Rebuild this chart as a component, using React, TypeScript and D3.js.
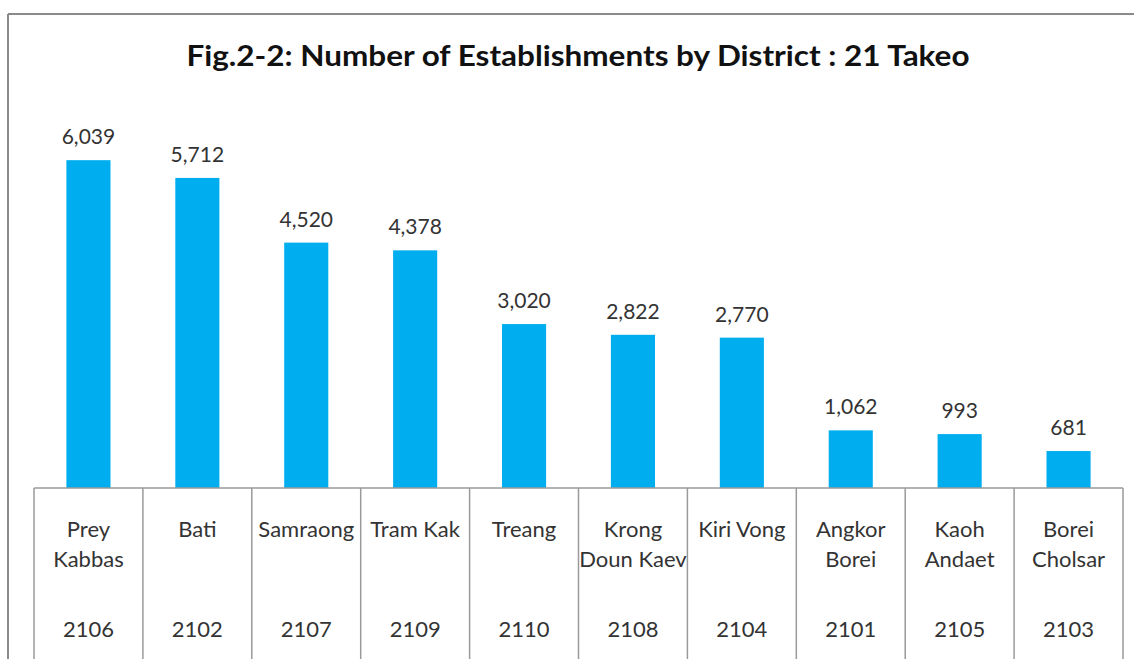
import React from "react";
import * as d3 from "d3";

const districts: string[][] = [
  ["Prey", "Kabbas"],
  ["Bati"],
  ["Samraong"],
  ["Tram Kak"],
  ["Treang"],
  ["Krong", "Doun Kaev"],
  ["Kiri Vong"],
  ["Angkor", "Borei"],
  ["Kaoh", "Andaet"],
  ["Borei", "Cholsar"],
];
const codes: string[] = ["2106", "2102", "2107", "2109", "2110", "2108", "2104", "2101", "2105", "2103"];
const establishments: number[] = [6039, 5712, 4520, 4378, 3020, 2822, 2770, 1062, 993, 681];
const yDomainMax = 7000;
const title = "Fig.2-2: Number of Establishments by District : 21 Takeo";

const W = 1134;
const H = 659;
const FONT = "Lato, 'Open Sans', sans-serif";

export default function App() {
  const x = d3.scaleBand<string>().domain(codes).range([34, 1123]).paddingInner(0).paddingOuter(0);
  const y = d3.scaleLinear().domain([0, yDomainMax]).range([488, 108]);
  const barW = x.bandwidth() * 0.405;
  const fmt = d3.format(",");
  const base = y(0);

  return (
    <svg
      width={W}
      height={H}
      style={{ position: "absolute", left: 0, top: 0, background: "#fff" }}
      fontFamily={FONT}
    >
      <rect x={0} y={0} width={W} height={H} fill="#fff" />
      {/* outer frame */}
      <line x1={8} y1={14} x2={W} y2={14} stroke="#8a8a8a" strokeWidth={2} />
      <line x1={8} y1={14} x2={8} y2={H} stroke="#8a8a8a" strokeWidth={2} />

      <text
        x={578}
        y={66}
        textAnchor="middle"
        fontSize={29}
        fontWeight="bold"
        fill="#111"
        textLength={783}
        lengthAdjust="spacingAndGlyphs"
      >
        {title}
      </text>

      {establishments.map((v, i) => {
        const cx = (x(codes[i]) as number) + x.bandwidth() / 2;
        return (
          <g key={codes[i]}>
            <rect x={cx - barW / 2} y={y(v)} width={barW} height={base - y(v)} fill="#00AEEF" />
            <text x={cx} y={y(v) - 16} textAnchor="middle" fontSize={21} fill="#333">
              {fmt(v)}
            </text>
          </g>
        );
      })}

      {/* category table */}
      <line x1={34} y1={base} x2={1123} y2={base} stroke="#9a9a9a" strokeWidth={1.5} />
      {[...codes.map((c) => x(c) as number), 1123].map((lx, i) => (
        <line key={i} x1={lx} y1={base} x2={lx} y2={H} stroke="#9a9a9a" strokeWidth={1.5} />
      ))}
      {codes.map((c, i) => {
        const cx = (x(c) as number) + x.bandwidth() / 2;
        return (
          <g key={c} fill="#333" fontSize={22} textAnchor="middle">
            {districts[i].map((line, j) => (
              <text key={j} x={cx} y={537 + j * 30}>
                {line}
              </text>
            ))}
            <text x={cx} y={637}>
              {c}
            </text>
          </g>
        );
      })}
    </svg>
  );
}
